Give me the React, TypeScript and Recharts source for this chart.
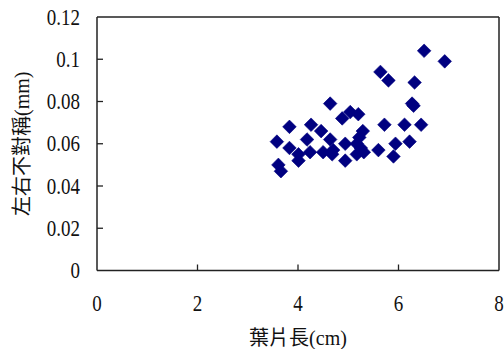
import React from "react";
import { ScatterChart, Scatter, XAxis, YAxis, ReferenceLine } from "recharts";

const leafLength = [
  6.51, 6.92, 5.64, 5.8, 6.32, 6.27, 6.3, 4.64, 5.04, 5.2, 4.88, 5.72, 6.12, 6.45,
  3.83, 4.26, 4.46, 5.29, 5.22, 4.64, 3.58, 4.18, 4.94, 5.17, 3.83, 4.24, 4.5,
  4.68, 4.01, 5.17, 5.31, 5.6, 5.94, 6.22, 5.9, 4.01, 4.94, 3.61, 3.66, 4.7, 5.25,
];
const asymmetry = [
  0.104, 0.099, 0.094, 0.09, 0.089, 0.079, 0.078, 0.079, 0.075, 0.074, 0.072, 0.069,
  0.069, 0.069, 0.068, 0.069, 0.066, 0.066, 0.063, 0.062, 0.061, 0.062, 0.06, 0.06,
  0.058, 0.056, 0.056, 0.055, 0.055, 0.055, 0.056, 0.057, 0.06, 0.061, 0.054, 0.052,
  0.052, 0.05, 0.047, 0.057, 0.058,
];
const xTicks = [0, 2, 4, 6, 8];
const yTicks = [0, 0.02, 0.04, 0.06, 0.08, 0.1, 0.12];
const xLabel = "葉片長(cm)";
const yLabel = "左右不對稱(mm)";

const data = leafLength.map((x, i) => ({ x, y: asymmetry[i] }));

const FONT = "Liberation Serif, Times New Roman, DejaVu Serif, Noto Sans CJK TC, serif";
const AXIS = "#222";
const textStyle = { fontFamily: FONT, fontSize: 20 };

const Diamond = (props: any) => {
  const { cx, cy } = props;
  const r = 6.8;
  return (
    <path
      d={`M${cx},${cy - r}L${cx + r},${cy}L${cx},${cy + r}L${cx - r},${cy}Z`}
      fill="#000080"
      stroke="#000080"
      strokeWidth={0.6}
      strokeLinejoin="round"
    />
  );
};

const XTick = (props: any) => {
  const { x, y, payload } = props;
  return (
    <g>
      {payload.value !== 0 && payload.value !== 8 ? (
        <line x1={x} x2={x} y1={y} y2={y - 6} stroke={AXIS} strokeWidth={1.3} />
      ) : null}
      <g transform={`translate(${x}, ${y + 33}) scale(0.95, 1.18)`}>
        <text x={0} y={0} textAnchor="middle" dominantBaseline="central" style={textStyle} fill="#111">
          {payload.value}
        </text>
      </g>
    </g>
  );
};

const YTick = (props: any) => {
  const { x, y, payload } = props;
  return (
    <g>
      {payload.value !== 0 && payload.value !== 0.12 ? (
        <line x1={x} x2={x + 6} y1={y} y2={y} stroke={AXIS} strokeWidth={1.3} />
      ) : null}
      <g transform={`translate(${x - 17}, ${y}) scale(0.95, 1.18)`}>
        <text x={0} y={0} textAnchor="end" dominantBaseline="central" style={textStyle} fill="#111">
          {payload.value}
        </text>
      </g>
    </g>
  );
};

export default function App() {
  return (
    <div style={{ position: "fixed", left: 0, top: 0, width: 504, height: 349, background: "#fff" }}>
      <ScatterChart width={504} height={349} margin={{ top: 17, right: 5, bottom: 0, left: 0 }}>
        <XAxis
          type="number"
          dataKey="x"
          domain={[0, 8]}
          ticks={xTicks}
          interval={0}
          height={78.5}
          tickSize={0}
          tickMargin={0}
          tickLine={false}
          axisLine={{ stroke: AXIS, strokeWidth: 1.5 }}
          tick={<XTick />}
          label={{
            content: (p: any) => {
              const vb = p.viewBox;
              return (
                <text x={vb.x + vb.width / 2} y={vb.y + 67.5} textAnchor="middle" dominantBaseline="central" style={textStyle} fill="#111">
                  {xLabel}
                </text>
              );
            },
          }}
        />
        <YAxis
          type="number"
          dataKey="y"
          domain={[0, 0.12]}
          ticks={yTicks}
          interval={0}
          width={97}
          tickSize={0}
          tickMargin={0}
          tickLine={false}
          axisLine={{ stroke: AXIS, strokeWidth: 1.5 }}
          tick={<YTick />}
          label={{
            content: (p: any) => {
              const vb = p.viewBox;
              const cx = 22;
              const cy = vb.y + vb.height / 2;
              return (
                <text x={cx} y={cy} transform={`rotate(-90, ${cx}, ${cy})`} textAnchor="middle" dominantBaseline="central" style={textStyle} fill="#111">
                  {yLabel}
                </text>
              );
            },
          }}
        />
        <ReferenceLine y={0.12} stroke={AXIS} strokeWidth={1.5} />
        <ReferenceLine x={8} stroke={AXIS} strokeWidth={1.5} />
        <Scatter data={data} shape={<Diamond />} isAnimationActive={false} />
      </ScatterChart>
    </div>
  );
}
